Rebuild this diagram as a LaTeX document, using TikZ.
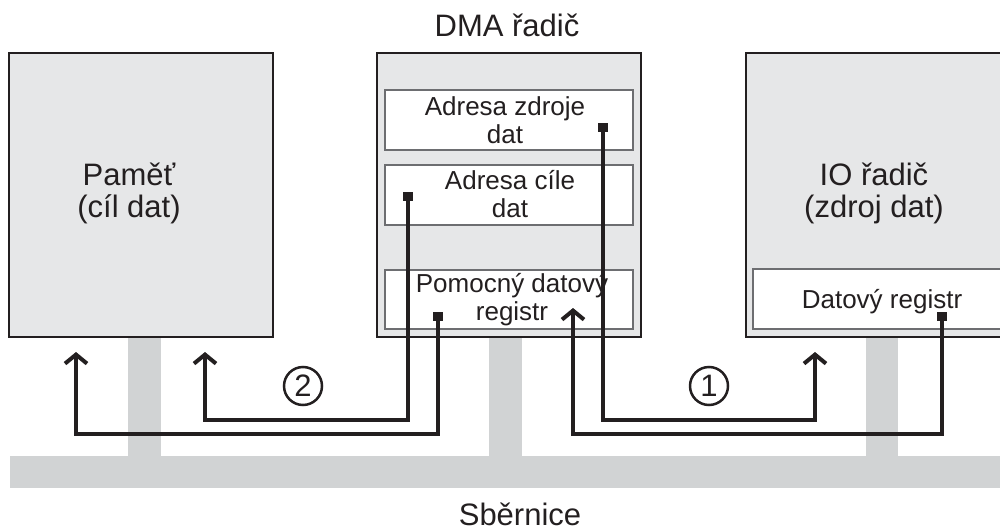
\documentclass[tikz,border=0pt]{standalone}
\usepackage{fontspec}
\setmainfont{Liberation Sans}
\usetikzlibrary{arrows.meta}
\definecolor{boxfill}{HTML}{E6E7E8}
\definecolor{busgray}{HTML}{D1D3D4}
\definecolor{ink}{HTML}{231F20}
\definecolor{regline}{HTML}{6D6E71}
\begin{document}
\begin{tikzpicture}[x=1pt,y=-1pt,
  unit/.style={draw=ink, fill=boxfill, line width=1.5pt, anchor=north west, inner sep=0, outer sep=0},
  reg/.style={draw=regline, fill=white, line width=1.3pt, anchor=north west, inner sep=0, outer sep=0},
  bus/.style={fill=busgray},
  lbl/.style={text=ink, font=\fontsize{31}{32}\selectfont, align=center, anchor=base, inner sep=0},
  reglbl/.style={text=ink, font=\fontsize{26}{28}\selectfont, align=center, anchor=base, inner sep=0},
  flow/.style={draw=ink, line width=4pt, -{Straight Barb[length=9pt,width=22pt]}},
  port/.style={fill=ink, minimum width=10pt, minimum height=9pt, inner sep=0, outer sep=0},
  num/.style={circle, draw=ink, line width=2.5pt, text=ink, minimum size=38pt, inner sep=0,
    font=\fontsize{31}{31}\selectfont}
]
\useasboundingbox (0,0) rectangle (1000,532);
\clip (0,0) rectangle (1000,532);
% bus
\fill[bus] (10,456) rectangle (1000,488);
\fill[bus] (128,336) rectangle (161,457);
\fill[bus] (489,336) rectangle (522,457);
\fill[bus] (866,336) rectangle (898,457);
% units
\node[unit, minimum width=264pt, minimum height=284pt] (mem) at (9,53) {};
\node[unit, minimum width=264pt, minimum height=284pt] (dma) at (377,53) {};
\node[unit, minimum width=280pt, minimum height=284pt] (io) at (746,53) {};
% registers
\node[reg, minimum width=248pt, minimum height=60pt] (rsrc) at (385,90) {};
\node[reg, minimum width=248pt, minimum height=60pt] (rdst) at (385,165) {};
\node[reg, minimum width=248pt, minimum height=59pt] (rtmp) at (385,270) {};
\node[reg, minimum width=270pt, minimum height=60pt] (rio) at (753,269) {};
% labels (base = baseline of the last line)
\node[lbl] (memtxt) at (129,217) {Paměť\\(cíl dat)};
\node[lbl] (iotxt) at (874,217) {IO řadič\\(zdroj dat)};
\node[lbl] (dmatxt) at (507,37) {DMA řadič};
\node[lbl] (bustxt) at (520,525) {Sběrnice};
\node[reglbl] (srctxt) at (505,143) {Adresa zdroje\\dat};
\node[reglbl] (dsttxt) at (510,217) {Adresa cíle\\dat};
\node[reglbl] (tmptxt) at (512,320) {Pomocný datový\\registr};
\node[reglbl] (iortxt) at (882,308) {Datový registr};
% ports and arrow ends
\node[port] (pA) at (438,316) {};
\node[port] (pB) at (408,196) {};
\node[port] (pC) at (603,127) {};
\node[port] (pD) at (942,316) {};
\coordinate (tA) at (76,352);
\coordinate (tB) at (205,352);
\coordinate (tC) at (815,352);
\coordinate (tD) at (573,308);
\coordinate (lowOuter) at (0,434);
\coordinate (lowInner) at (0,420);
% flows
\draw[flow] (pA.center) -- (pA.center |- lowOuter) -| (tA);
\draw[flow] (pB.center) -- (pB.center |- lowInner) -| (tB);
\draw[flow] (pC.center) -- (pC.center |- lowInner) -| (tC);
\draw[flow] (pD.center) -- (pD.center |- lowOuter) -| (tD);
\node[port] at (pA) {};
\node[port] at (pB) {};
\node[port] at (pC) {};
\node[port] at (pD) {};
% step numbers
\node[num] (n2) at (303,386) {2};
\node[num] (n1) at (709,386) {1};
\end{tikzpicture}
\end{document}
